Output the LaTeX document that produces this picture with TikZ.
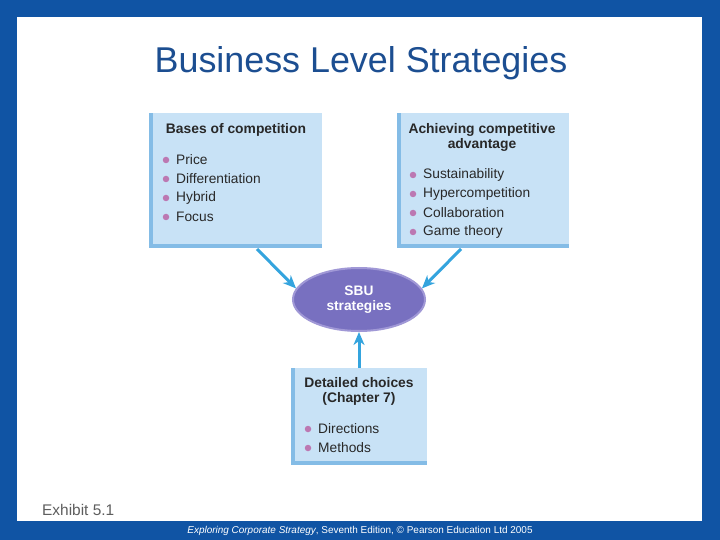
\documentclass[tikz,border=0pt]{standalone}
\usepackage{fontspec}
\setmainfont{Liberation Sans}
\usetikzlibrary{arrows.meta,shapes.geometric}
\definecolor{frameblue}{RGB}{16,84,164}
\definecolor{titleblue}{RGB}{28,78,145}
\definecolor{boxfill}{RGB}{200,226,246}
\definecolor{boxedge}{RGB}{132,188,230}
\definecolor{bulletc}{RGB}{188,120,178}
\definecolor{arrowc}{RGB}{52,164,222}
\definecolor{ellfill}{RGB}{120,112,192}
\definecolor{ellrim}{RGB}{160,152,214}
\definecolor{txt}{RGB}{40,40,40}
\tikzset{
  x=1bp, y=-1bp,
  panel/.style={fill=boxfill, draw=none},
  head/.style={font=\fontsize{13.9}{15.5}\selectfont\bfseries, text=txt, align=center, inner sep=0pt},
  item/.style={font=\fontsize{13.8}{15}\selectfont, text=txt, anchor=west, inner sep=0pt},
  dot/.style={circle, fill=bulletc, minimum size=6.5bp, inner sep=0pt},
  conn/.style={draw=arrowc, line width=3bp, -{Stealth[length=13bp,width=11bp,inset=4bp]}},
}
\begin{document}
\begin{tikzpicture}
\useasboundingbox (0,0) rectangle (720,540);
\fill[frameblue] (0,0) rectangle (720,540);
\fill[white] (17,17) rectangle (702,521);
\node[text=titleblue, font=\fontsize{36}{40}\selectfont, inner sep=0pt] (title) at (361,63) {Business Level Strategies};

% left box
\fill[boxedge] (149,113) rectangle (322,248);
\fill[panel] (153,113) rectangle (322,244);
\coordinate (lb) at (257,249);
\node[head] (lh) at (236,130) {Bases of competition};
\foreach \t [count=\i] in {Price,Differentiation,Hybrid,Focus}{
  \node[dot] (ld\i) at (166,{141+19*\i}) {};
  \node[item] (li\i) at (176,{141+19*\i}) {\t};
}

% right box
\fill[boxedge] (397,113) rectangle (569,248);
\fill[panel] (401,113) rectangle (569,244);
\coordinate (rb) at (461,249);
\node[head] (rh) at (482,137.5) {Achieving competitive\\advantage};
\foreach \t [count=\i] in {Sustainability,Hypercompetition,Collaboration,Game theory}{
  \node[dot] (rd\i) at (413,{156+19*\i}) {};
  \node[item] (ri\i) at (423,{156+19*\i}) {\t};
}

% bottom box
\fill[boxedge] (291,368) rectangle (427,465);
\fill[panel] (295,368) rectangle (427,461);
\coordinate (bb) at (359,368);
\node[head] (bh) at (359,391.5) {Detailed choices\\(Chapter 7)};
\foreach \t [count=\i] in {Directions,Methods}{
  \node[dot] (bd\i) at (308,{410+19*\i}) {};
  \node[item] (bi\i) at (318,{410+19*\i}) {\t};
}

% ellipse
\node[ellipse, fill=ellfill, draw=ellrim, line width=2bp, minimum width=132bp, minimum height=63bp, inner sep=0pt] (sbu) at (359,299.5) {};
\node[font=\fontsize{13.8}{15.5}\selectfont\bfseries, text=white, align=center, inner sep=0pt] (sbut) at (359,299.5) {SBU\\strategies};

% connectors
\draw[conn] (lb) -- (sbu.170);
\draw[conn] (rb) -- (sbu.10);
\draw[conn] (bb) -- (sbu.south);

\node[font=\fontsize{15.5}{17}\selectfont, text=txt!75, anchor=west, inner sep=0pt] (ex) at (42,510) {Exhibit 5.1};
\node[font=\fontsize{10}{12}\selectfont, text=white, inner sep=0pt] (foot) at (360,531) {\textit{Exploring Corporate Strategy}, Seventh Edition, © Pearson Education Ltd 2005};
\end{tikzpicture}
\end{document}
